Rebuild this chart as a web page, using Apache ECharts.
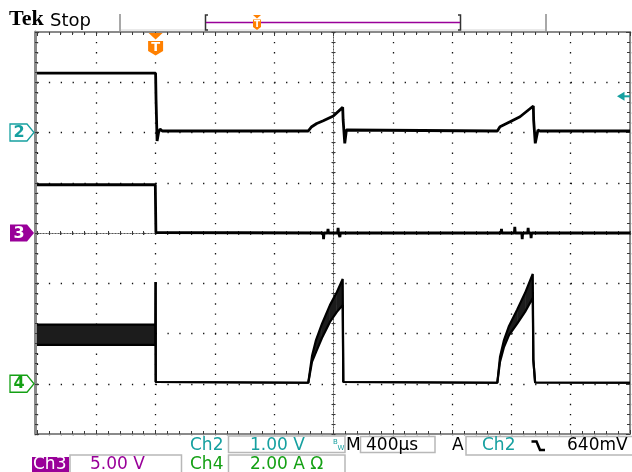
<!DOCTYPE html>
<html>
<head>
<meta charset="utf-8">
<script src="https://cdn.jsdelivr.net/npm/echarts@6/dist/echarts.min.js"></script>
<style>html,body{margin:0;padding:0;background:#fff}#c{width:632px;height:472px}</style>
</head>
<body>
<div id="c"></div>
<script>
// ---------------- scope settings ----------------
const timePerDivUs = 400;          // M 400µs
const divsBeforeTrigger = 2;       // trigger sits 2 divisions from the left
const divsTotal = 10;
const ch2Scale = 1.00;             // V/div
const ch3Scale = 5.00;             // V/div
const ch4Scale = 2.00;             // A/div
const ch2Ground = 2;               // divisions above centre
const ch3Ground = 0;
const ch4Ground = -3;
const trigArrowV = 0.72;           // trigger level arrow (Ch2, 640mV readout)

// ---------------- Ch2 (volts) ----------------
const ch2TimeUs = [-800, 0, 3, 10, 20, 30, 45, 1030, 1053, 1087, 1131, 1199, 1262, 1265, 1276, 1287, 1298, 2305, 2323, 2391, 2458, 2548, 2550, 2561, 2579, 2593, 3200];
const ch2Volts  = [1.18, 1.18, 0.65, -0.17, 0.0, 0.07, 0.03, 0.03, 0.115, 0.18, 0.235, 0.33, 0.50, 0.25, -0.215, 0.05, 0.03, 0.03, 0.115, 0.215, 0.314, 0.527, 0.25, -0.215, 0.05, 0.03, 0.03];

// ---------------- Ch3 (volts) ----------------
const ch3TimeUs = [-800, -2, 2, 1130, 1133, 1136, 1160, 1163, 1166, 1228, 1231, 1234, 1240, 1243, 1246, 2330, 2333, 2336, 2420, 2423, 2426, 2470, 2473, 2476, 2510, 2513, 2516, 2530, 2533, 2536, 3200];
const ch3Volts  = [4.8, 4.8, 0.05, 0, -0.6, 0, 0, 0.4, 0, 0, 0.5, 0, 0, -0.4, 0, 0, 0.4, 0, 0, 0.6, 0, 0, -0.6, 0, 0, 0.5, 0, 0, -0.5, 0, 0];

// ---------------- Ch4 (amps, lower / upper edge of the noisy trace) ----------------
const ch4TimeUs    = [-800, -1, 0, 1, 3, 1030, 1055, 1082, 1122, 1176, 1223, 1262, 1266, 1272, 2305, 2323, 2350, 2384, 2438, 2492, 2544, 2548, 2560, 3200];
const ch4AmpsLow   = [1.55, 1.55, 4.05, 0.07, 0.05, 0.04, 0.87, 1.26, 1.82, 2.46, 2.86, 3.13, 0.07, 0.05, 0.04, 0.87, 1.46, 1.94, 2.38, 2.86, 3.41, 0.95, 0.05, 0.04];
const ch4AmpsHigh  = [2.35, 2.35, 4.05, 0.07, 0.05, 0.04, 1.10, 1.74, 2.38, 3.13, 3.65, 4.17, 0.07, 0.05, 0.04, 1.06, 1.74, 2.30, 2.94, 3.61, 4.37, 0.95, 0.05, 0.04];

// ---------------- build ----------------
const toDiv = (v, scale, ground) => v / scale + ground;
const ch2Data = ch2TimeUs.map((t, i) => [t, toDiv(ch2Volts[i], ch2Scale, ch2Ground)]);
const ch3Data = ch3TimeUs.map((t, i) => [t, toDiv(ch3Volts[i], ch3Scale, ch3Ground)]);
const ch4Low  = ch4TimeUs.map((t, i) => [t, toDiv(ch4AmpsLow[i], ch4Scale, ch4Ground)]);
const ch4High = ch4TimeUs.map((t, i) => [t, toDiv(ch4AmpsHigh[i], ch4Scale, ch4Ground)]);
const ch4Band = ch4TimeUs.map((t, i) => [t, ch4Low[i][1], ch4High[i][1]]);

const xMin = -divsBeforeTrigger * timePerDivUs;
const xMax = (divsTotal - divsBeforeTrigger) * timePerDivUs;

const TEAL = '#16a0a0', GREEN = '#14a014', PURPLE = '#990099', ORANGE = '#ff8000';
const tick = {color: '#3a3a3a', width: 1};

function borderX(pos, split) {
  return {
    type: 'value', min: xMin, max: xMax, interval: timePerDivUs, position: pos,
    axisLine: {show: true, onZero: false, lineStyle: {color: '#8a8a8a', width: 2}},
    axisTick: {show: true, inside: true, length: 4, lineStyle: tick},
    minorTick: {show: true, splitNumber: 5, length: 3, lineStyle: tick},
    axisLabel: {show: false},
    splitLine: {show: split, lineStyle: {color: '#111', width: 1.3, type: [1.3, 8.75]}}
  };
}
function centreX(pos) {
  return {
    type: 'value', min: xMin, max: xMax, interval: timePerDivUs, position: pos,
    axisLine: {show: true, onZero: true, onZeroAxisIndex: 0, lineStyle: {color: '#555', width: 1, type: [1, 2]}},
    axisTick: {show: true, inside: false, length: 2, lineStyle: tick},
    minorTick: {show: true, splitNumber: 5, length: 2, lineStyle: tick},
    axisLabel: {show: false}, splitLine: {show: false}
  };
}
function borderY(pos, split, off) {
  return {
    type: 'value', min: -4, max: 4, interval: 1, position: pos, offset: off,
    axisLine: {show: true, onZero: false, lineStyle: {color: '#8a8a8a', width: pos === 'left' ? 3 : 2}},
    axisTick: {show: true, inside: true, length: 4, lineStyle: tick},
    minorTick: {show: true, splitNumber: 5, length: 3, lineStyle: tick},
    axisLabel: {show: false},
    splitLine: {show: split, lineStyle: {color: '#111', width: 1.3, type: [1.3, 10.56]}}
  };
}
function centreY(pos) {
  return {
    type: 'value', min: -4, max: 4, interval: 1, position: pos,
    axisLine: {show: true, onZero: true, onZeroAxisIndex: 4, lineStyle: {color: '#555', width: 1, type: [1, 2]}},
    axisTick: {show: true, inside: false, length: 2, lineStyle: tick},
    minorTick: {show: true, splitNumber: 5, length: 2, lineStyle: tick},
    axisLabel: {show: false}, splitLine: {show: false}
  };
}

const traceStyle = w => ({color: '#000', width: w});
const lineSeries = (data, w) => ({
  type: 'line', data, symbol: 'none', showSymbol: false, silent: true, clip: true,
  lineStyle: traceStyle(w), z: 3, animation: false
});

const chart = echarts.init(document.getElementById('c'));
chart.setOption({
  animation: false,
  backgroundColor: '#ffffff',
  grid: {left: 37, top: 32, right: 2, bottom: 38},
  xAxis: [
    borderX('bottom', true),
    borderX('top', false),
    centreX('bottom'),
    centreX('top'),
    {type: 'value', min: -5, max: 5, show: false, splitLine: {show: false}, axisLine: {onZero: false}}
  ],
  yAxis: [
    borderY('left', true, 2),
    borderY('right', false, 0),
    centreY('left'),
    centreY('right')
  ],
  series: [
    {
      type: 'custom', coordinateSystem: 'cartesian2d', xAxisIndex: 0, yAxisIndex: 0,
      data: ch4Band, encode: {x: 0, y: [1, 2]}, clip: true, silent: true, z: 2,
      renderItem: function (params, api) {
        const i = params.dataIndex;
        if (i >= ch4Band.length - 1) return null;
        const a = ch4Band[i], b = ch4Band[i + 1];
        if (a[2] - a[1] < 0.005 && b[2] - b[1] < 0.005) return null;
        return {
          type: 'polygon',
          shape: {points: [api.coord([a[0], a[2]]), api.coord([b[0], b[2]]), api.coord([b[0], b[1]]), api.coord([a[0], a[1]])]},
          style: {fill: '#1c1c1c'}
        };
      }
    },
    lineSeries(ch4Low, 2.2),
    lineSeries(ch4High, 2.2),
    lineSeries(ch3Data, 2.8),
    lineSeries(ch2Data, 2.8)
  ]
});

// ---------------- annotations ----------------
const px = t => chart.convertToPixel({xAxisIndex: 0}, t);
const py = d => chart.convertToPixel({yAxisIndex: 0}, d);
const FONT = '"DejaVu Sans", sans-serif';
const g = [];
const txt = (x, y, text, fill, size, extra) => g.push({type: 'text', x, y, silent: true, z: 20,
  style: Object.assign({text, fill, font: size + 'px ' + FONT, align: 'left', verticalAlign: 'middle'}, extra || {})});
const box = (x, y, w, h) => g.push({type: 'rect', silent: true, z: 19, shape: {x, y, width: w, height: h},
  style: {fill: 'none', stroke: '#b8b8b8', lineWidth: 1.5}});
const pline = (pts, stroke, w) => g.push({type: 'polyline', silent: true, z: 20, shape: {points: pts}, style: {stroke, lineWidth: w, fill: 'none'}});
const poly = (pts, style) => g.push({type: 'polygon', silent: true, z: 20, shape: {points: pts}, style});

// top bar
g.push({type: 'text', x: 9, y: 30, z: 20, style: {text: 'Tek', font: 'bold 22px "Liberation Serif", serif', fill: '#000', verticalAlign: 'bottom'}});
g.push({type: 'text', x: 50, y: 30, z: 20, style: {text: 'Stop', font: '18px ' + FONT, fill: '#000', verticalAlign: 'bottom'}});
pline([[120, 14], [120, 31]], '#a8a8a8', 2);
pline([[546, 14], [546, 31]], '#a8a8a8', 2);
pline([[121, 30], [545, 30]], '#d4d4d4', 1);
pline([[208, 15], [205.5, 15], [205.5, 30], [208, 30]], '#333', 1.5);
pline([[458, 15], [460.5, 15], [460.5, 30], [458, 30]], '#333', 1.5);
pline([[206, 22.5], [460, 22.5]], PURPLE, 1.5);
poly([[253, 15], [261, 15], [257, 18.5]], {fill: ORANGE});
poly([[253, 19.5], [261, 19.5], [261, 27], [257, 30], [253, 27]], {fill: ORANGE});
g.push({type: 'text', x: 257, y: 25, z: 21, style: {text: 'T', font: 'bold 9px ' + FONT, fill: '#fff', align: 'center', verticalAlign: 'middle'}});

// trigger position marker
const tx = px(0);
poly([[tx - 7, 33], [tx + 7, 33], [tx, 39.5]], {fill: ORANGE});
poly([[tx - 7.5, 41], [tx + 7.5, 41], [tx + 7.5, 51], [tx, 55.5], [tx - 7.5, 51]], {fill: ORANGE});
g.push({type: 'text', x: tx, y: 47.5, z: 21, style: {text: 'T', font: 'bold 13px ' + FONT, fill: '#fff', align: 'center', verticalAlign: 'middle'}});

// channel ground markers
function marker(d, label, color, filled) {
  const y = py(d);
  poly([[10, y - 8.5], [27, y - 8.5], [34, y], [27, y + 8.5], [10, y + 8.5]],
       filled ? {fill: color} : {fill: '#fff', stroke: color, lineWidth: 1.3});
  g.push({type: 'text', x: 19, y: y + 0.5, z: 21, style: {text: label, font: 'bold 16px ' + FONT, fill: filled ? '#fff' : color, align: 'center', verticalAlign: 'middle'}});
}
marker(ch2Ground, '2', TEAL, false);
marker(ch3Ground, '3', PURPLE, true);
marker(ch4Ground, '4', GREEN, false);

// trigger level arrow (right edge)
const ay = py(toDiv(trigArrowV, ch2Scale, ch2Ground));
poly([[617, ay], [624.5, ay - 4.5], [624.5, ay + 4.5]], {fill: TEAL});
pline([[624, ay], [630, ay]], TEAL, 2);

// bottom readouts, row 1
txt(190, 445.5, 'Ch2', TEAL, 17);
box(228.5, 436, 116.5, 16.5);
txt(250, 445.5, '1.00 V', TEAL, 17);
txt(333, 442, 'B', TEAL, 7);
txt(337.5, 448, 'W', TEAL, 7);
txt(346, 445.5, 'M', '#000', 17);
box(360.5, 436.5, 74.5, 16);
txt(366, 445.5, '400µs', '#000', 17);
txt(452, 445.5, 'A', '#000', 17);
box(466, 436.5, 175, 18.5);
txt(482, 445.5, 'Ch2', TEAL, 17);
pline([[531.5, 441.5], [536.5, 441.5], [540, 450], [545, 450]], '#000', 2.5);
txt(567, 445.5, '640mV', '#000', 17);

// bottom readouts, row 2
g.push({type: 'rect', silent: true, z: 19, shape: {x: 32, y: 457, width: 37, height: 15}, style: {fill: PURPLE}});
txt(33, 464.5, 'Ch3', '#fff', 17);
box(70, 455, 111.5, 18);
txt(90, 464.5, '5.00 V', PURPLE, 17);
txt(190, 464.5, 'Ch4', GREEN, 17);
box(228.5, 455, 116.5, 18);
txt(250, 464.5, '2.00 A Ω', GREEN, 17);

chart.setOption({graphic: g});
</script>
</body>
</html>
